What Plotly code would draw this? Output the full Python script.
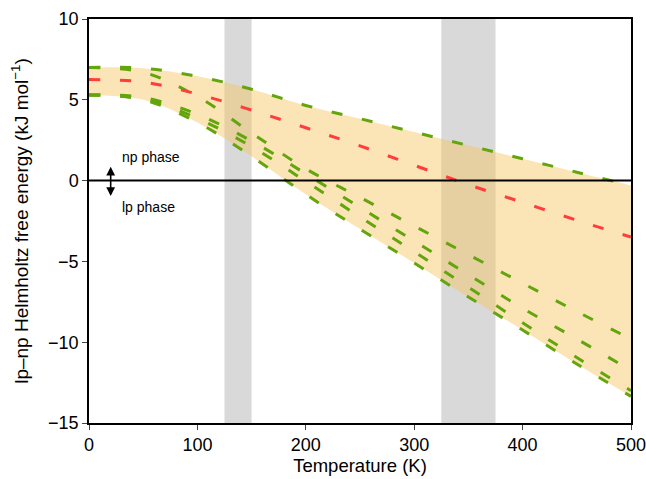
import numpy as np
import plotly.graph_objects as go

# Temperature grid (K)
temperature = [0, 50, 100, 150, 200, 250, 300, 350, 400, 450, 500]

# lp-np free energy differences (kJ/mol)
green_1 = [7.0, 6.95, 6.45, 5.65, 4.65, 3.83, 3.0, 2.17, 1.35, 0.52, -0.3]
green_2 = [7.0, 6.7, 5.2, 2.95, 0.73, -1.04, -2.81, -4.58, -6.35, -8.1, -9.8]
green_3 = [5.3, 5.15, 4.1, 2.45, 0.42, -1.66, -3.74, -5.82, -7.9, -9.8, -11.75]
green_4 = [5.3, 5.05, 3.85, 2.1, -0.05, -2.25, -4.4, -6.6, -8.8, -10.95, -13.0]
green_5 = [5.3, 5.0, 3.6, 1.5, -0.85, -3.0, -5.1, -7.2, -9.25, -11.35, -13.35]
red_mean = [6.25, 6.1, 5.35, 4.36, 3.27, 2.15, 0.95, -0.25, -1.35, -2.45, -3.5]

# shaded temperature windows (K)
band_1 = [125, 150]
band_2 = [325, 375]

x_ticks = [0, 100, 200, 300, 400, 500]
y_ticks = [-15, -10, -5, 0, 5, 10]

greens = [green_1, green_2, green_3, green_4, green_5]
upper = np.max(np.array(greens + [red_mean]), axis=0).tolist()
lower = np.min(np.array(greens + [red_mean]), axis=0).tolist()

FONT = "Liberation Sans, Arial, Helvetica, sans-serif"
GREEN = "#63a50c"
RED = "#ff3d3d"
DASH = "11px,20px"

fig = go.Figure()

# envelope fill
fig.add_trace(go.Scatter(x=temperature, y=lower, mode="lines",
                         line=dict(width=0, shape="spline", color="rgba(0,0,0,0)"),
                         showlegend=False, hoverinfo="skip"))
fig.add_trace(go.Scatter(x=temperature, y=upper, mode="lines", fill="tonexty",
                         fillcolor="rgba(247,196,90,0.45)",
                         line=dict(width=0, shape="spline", color="rgba(0,0,0,0)"),
                         showlegend=False, hoverinfo="skip"))

for g in greens:
    fig.add_trace(go.Scatter(x=temperature, y=g, mode="lines",
                             line=dict(color=GREEN, width=3, dash=DASH, shape="spline"),
                             showlegend=False))
fig.add_trace(go.Scatter(x=temperature, y=red_mean, mode="lines",
                         line=dict(color=RED, width=3, dash=DASH, shape="spline"),
                         showlegend=False))

shapes = []
for b in (band_1, band_2):
    shapes.append(dict(type="rect", xref="x", yref="paper", x0=b[0], x1=b[1], y0=0, y1=1,
                       fillcolor="#d9d9d9", line=dict(width=0), layer="below"))
shapes.append(dict(type="line", xref="paper", yref="y", x0=0, x1=1, y0=0, y1=0,
                   line=dict(color="black", width=2), layer="above"))

annotations = [
    dict(x=20, y=-0.95, ax=20, ay=0.95, xref="x", yref="y", axref="x", ayref="y",
         text="", showarrow=True, arrowhead=2, startarrowhead=2, arrowside="end+start",
         arrowsize=1.1, arrowwidth=1.6, arrowcolor="black"),
    dict(x=29, y=1.45, xref="x", yref="y", text="np phase", showarrow=False,
         xanchor="left", yanchor="middle", font=dict(family=FONT, size=14, color="black")),
    dict(x=29, y=-1.65, xref="x", yref="y", text="lp phase", showarrow=False,
         xanchor="left", yanchor="middle", font=dict(family=FONT, size=14, color="black")),
]

fig.update_layout(
    width=646, height=479,
    margin=dict(l=89, r=15, t=19, b=56),
    plot_bgcolor="white", paper_bgcolor="white",
    font=dict(family=FONT, size=18, color="black"),
    shapes=shapes, annotations=annotations,
    showlegend=False,
)
fig.update_xaxes(range=[0, 500], tickvals=x_ticks, ticks="outside", ticklen=5,
                 tickwidth=1.3, showline=True, linecolor="black", linewidth=1.5,
                 mirror=True, showgrid=False, zeroline=False, automargin=False,
                 ticklabeloverflow="allow",
                 tickfont=dict(size=18), title=dict(text="Temperature (K)",
                 font=dict(size=18.5), standoff=4))
fig.update_yaxes(range=[-15, 10], tickvals=y_ticks, ticks="outside", ticklen=5,
                 tickwidth=1.3, showline=True, linecolor="black", linewidth=1.5,
                 mirror=True, showgrid=False, zeroline=False, automargin=False,
                 ticklabeloverflow="allow",
                 tickfont=dict(size=18),
                 title=dict(text="lp–np Helmholtz free energy (kJ mol<sup>−1</sup>)",
                            font=dict(size=19), standoff=14))

fig.write_html("out.html", config={"displayModeBar": False})

# remove the browser's default body margin so the figure sits at the page origin
with open("out.html", "r", encoding="utf-8") as f:
    html = f.read()
html = html.replace("<body>", '<body style="margin:0;padding:0;">', 1)
with open("out.html", "w", encoding="utf-8") as f:
    f.write(html)
